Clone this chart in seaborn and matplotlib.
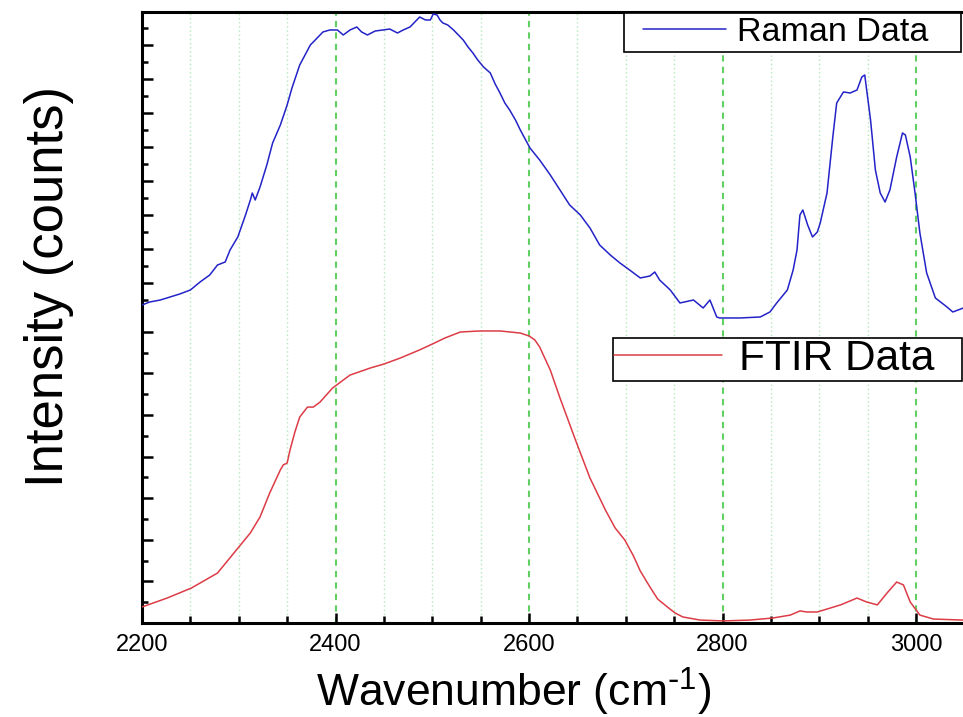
import numpy as np
import pandas as pd
import matplotlib
matplotlib.use("Agg")
import matplotlib.pyplot as plt
import seaborn as sns
from matplotlib.ticker import FixedLocator
from matplotlib.legend_handler import HandlerLine2D

# ---------------- data ----------------
raman_wavenumber = [
    2200, 2208, 2219, 2229, 2239, 2250, 2260, 2270, 2278, 2286,
    2291, 2299, 2307, 2312, 2314, 2317, 2322, 2329, 2335, 2343,
    2350, 2355, 2363, 2374, 2381, 2387, 2394, 2402, 2408, 2415,
    2422, 2427, 2433, 2441, 2449, 2456, 2464, 2470, 2477, 2482,
    2487, 2493, 2498, 2501, 2505, 2508, 2511, 2516, 2522, 2527,
    2532, 2537, 2542, 2547, 2553, 2560, 2565, 2570, 2575, 2580,
    2586, 2591, 2601, 2611, 2622, 2632, 2642, 2653, 2663, 2673,
    2684, 2694, 2704, 2715, 2725, 2730, 2735, 2746, 2756, 2770,
    2780, 2787, 2794, 2797, 2818, 2839, 2849, 2856, 2867, 2873,
    2877, 2880, 2883, 2888, 2893, 2898, 2901, 2908, 2914, 2918,
    2925, 2932, 2939, 2944, 2947, 2949, 2953, 2958, 2963, 2968,
    2973, 2980, 2986, 2989, 2994, 2999, 3004, 3011, 3020, 3032,
    3038, 3049,
]
raman_counts = [
    353, 441, 500, 588, 676, 794, 1029, 1235, 1529, 1618,
    1970, 2353, 3000, 3441, 3647, 3441, 3823, 4470, 5117, 5647,
    6235, 6735, 7411, 8000, 8205, 8382, 8441, 8441, 8294, 8441,
    8529, 8382, 8294, 8411, 8441, 8470, 8353, 8441, 8529, 8676,
    8823, 8735, 8735, 8911, 8882, 8735, 8647, 8588, 8441, 8294,
    8147, 7941, 7764, 7559, 7353, 7176, 6853, 6588, 6294, 6088,
    5794, 5500, 4970, 4617, 4176, 3735, 3294, 3000, 2618, 2118,
    1823, 1588, 1382, 1147, 1206, 1323, 1088, 794, 412, 500,
    265, 500, 0, -29, -29, 0, 147, 412, 794, 1382,
    1970, 3000, 3147, 2706, 2353, 2500, 2765, 3647, 5294, 6294,
    6618, 6588, 6676, 7059, 7117, 6676, 5794, 4323, 3647, 3382,
    3735, 4706, 5412, 5353, 4706, 3647, 2470, 1294, 559, 294,
    147, 265,
]

ftir_wavenumber = [
    2200, 2226, 2251, 2278, 2300, 2312, 2322, 2332, 2343, 2346,
    2350, 2353, 2358, 2363, 2371, 2377, 2384, 2397, 2415, 2436,
    2450, 2467, 2487, 2500, 2513, 2529, 2549, 2570, 2591, 2600,
    2606, 2611, 2622, 2632, 2648, 2663, 2679, 2689, 2699, 2708,
    2715, 2725, 2733, 2743, 2751, 2759, 2777, 2801, 2828, 2852,
    2870, 2880, 2887, 2898, 2922, 2939, 2949, 2960, 2970, 2980,
    2987, 2994, 3004, 3018, 3049,
]
ftir_absorbance = [
    0.077, 0.120, 0.168, 0.240, 0.365, 0.433, 0.510, 0.625, 0.736, 0.760,
    0.769, 0.832, 0.918, 0.990, 1.038, 1.038, 1.062, 1.130, 1.192, 1.226,
    1.245, 1.274, 1.313, 1.341, 1.370, 1.399, 1.404, 1.404, 1.394, 1.380,
    1.361, 1.327, 1.216, 1.082, 0.880, 0.697, 0.543, 0.457, 0.399, 0.322,
    0.250, 0.173, 0.115, 0.077, 0.048, 0.029, 0.014, 0.010, 0.014, 0.024,
    0.038, 0.058, 0.053, 0.053, 0.087, 0.120, 0.101, 0.087, 0.144, 0.197,
    0.183, 0.101, 0.038, 0.019, 0.014,
]

x_major_ticks = [2200, 2400, 2600, 2800, 3000]
x_tick_labels = ["2200", "2400", "2600", "2800", "3000"]
x_minor_ticks = [2250, 2300, 2350, 2450, 2500, 2550, 2650, 2700, 2750,
                 2850, 2900, 2950, 3050]
ftir_major_ticks = [0.2, 0.4, 0.6, 0.8, 1.0, 1.2, 1.4]
ftir_minor_ticks = [0.1, 0.3, 0.5, 0.7, 0.9, 1.1, 1.3]
raman_major_ticks = [1000, 2000, 3000, 4000, 5000, 6000, 7000, 8000]
raman_minor_ticks = [500, 1500, 2500, 3500, 4500, 5500, 6500, 7500, 8500]

# ---------------- style ----------------
sns.set_style("white")
plt.rcParams["font.family"] = ["Liberation Sans", "DejaVu Sans"]
plt.rcParams["mathtext.default"] = "regular"
plt.rcParams["text.color"] = "black"
plt.rcParams["axes.labelcolor"] = "black"
plt.rcParams["xtick.color"] = "black"
plt.rcParams["ytick.color"] = "black"

W, H = 963, 717
fig = plt.figure(figsize=(W / 100, H / 100), dpi=100)
fig.patch.set_facecolor("white")
ax = fig.add_axes([142 / W, 94 / H, 822.4 / W, 611 / H])
ax2 = ax.twinx()

BLUE = "#2323c8"
RED = "#dc3c46"

sns.lineplot(x=ftir_wavenumber, y=ftir_absorbance, ax=ax, color=RED,
             linewidth=1.1, legend=False, zorder=3)
sns.lineplot(x=raman_wavenumber, y=raman_counts, ax=ax2, color=BLUE,
             linewidth=1.1, legend=False, zorder=3)

ax.set_xlim(2200, 3050)
ax.set_ylim(0, 2.9375)
ax2.set_ylim(-9000, 8970)

# x axis ticks & grid
ax.xaxis.set_major_locator(FixedLocator(x_major_ticks))
ax.set_xticklabels(x_tick_labels)
ax.xaxis.set_minor_locator(FixedLocator(x_minor_ticks))
ax.grid(False)
ax.grid(which="major", axis="x", color="#62cf62", linestyle=(0, (3.0, 2.5)),
        linewidth=1.5, zorder=0)
ax.grid(which="minor", axis="x", color="#b4e9b4", linestyle=(0, (1.0, 2.0)),
        linewidth=1.0, zorder=0)
ax.tick_params(axis="x", which="major", direction="in", length=7.5, width=1.8,
               labelsize=17, pad=8, colors="black", bottom=True, top=False)
ax.tick_params(axis="x", which="minor", direction="in", length=5, width=1.8,
               bottom=True, top=False)

# FTIR (lower layer) y ticks
ax.yaxis.set_major_locator(FixedLocator(ftir_major_ticks))
ax.yaxis.set_minor_locator(FixedLocator(ftir_minor_ticks))
ax.tick_params(axis="y", which="major", direction="in", length=8, width=1.8,
               left=True, right=False, labelleft=False, labelright=False)
ax.tick_params(axis="y", which="minor", direction="in", length=4.3, width=1.8,
               left=True, right=False)

# Raman (upper layer) y ticks, on the left side
ax2.yaxis.set_major_locator(FixedLocator(raman_major_ticks))
ax2.yaxis.set_minor_locator(FixedLocator(raman_minor_ticks))
ax2.yaxis.set_ticks_position("left")
ax2.tick_params(axis="y", which="major", direction="in", length=8, width=1.8,
                left=True, right=False, labelleft=False, labelright=False)
ax2.tick_params(axis="y", which="minor", direction="in", length=4.3, width=1.8,
                left=True, right=False, labelleft=False, labelright=False)
ax2.set_ylabel("")
for s in ax2.spines.values():
    s.set_visible(False)

for s in ax.spines.values():
    s.set_visible(True)
    s.set_color("black")
    s.set_linewidth(2.2)

ax.set_xlabel("Wavenumber (cm$^{\\text{-}1}$)", fontsize=32, color="black")
ax.xaxis.set_label_coords(0.452, -0.070)
ax.set_ylabel("Intensity (counts)", fontsize=38, color="black")
ax.yaxis.set_label_coords(-0.083, 0.55)

# legends
raman_line = ax2.get_lines()[0]
ftir_line = ax.get_lines()[0]

leg1 = ax2.legend([raman_line], ["Raman Data"], loc="upper left",
                  bbox_to_anchor=(624 / W, 1 - 61 / H, 337 / W, 48 / H),
                  bbox_transform=fig.transFigure, mode="expand",
                  borderaxespad=0, fontsize=24.5, frameon=True, fancybox=False,
                  framealpha=1, edgecolor="black", borderpad=0.12,
                  handlelength=3.3, handletextpad=-0.1, labelcolor="black",
                  handler_map={raman_line: HandlerLine2D(numpoints=2, marker_pad=0.43)})
leg1.get_frame().set_linewidth(1.2)
leg1.set_zorder(10)
ax2.add_artist(leg1)

leg2 = ax2.legend([ftir_line], ["FTIR Data"], loc="upper left",
                  bbox_to_anchor=(613 / W, 1 - 388 / H, 349 / W, 50 / H),
                  bbox_transform=fig.transFigure, mode="expand",
                  borderaxespad=0, fontsize=30.5, frameon=True, fancybox=False,
                  framealpha=1, edgecolor="black", borderpad=0.03,
                  handlelength=2.55, handletextpad=0.4, labelcolor="black")
leg2.get_frame().set_linewidth(1.2)
leg2.set_zorder(10)

fig.savefig("out.png", dpi=100, facecolor="white")
